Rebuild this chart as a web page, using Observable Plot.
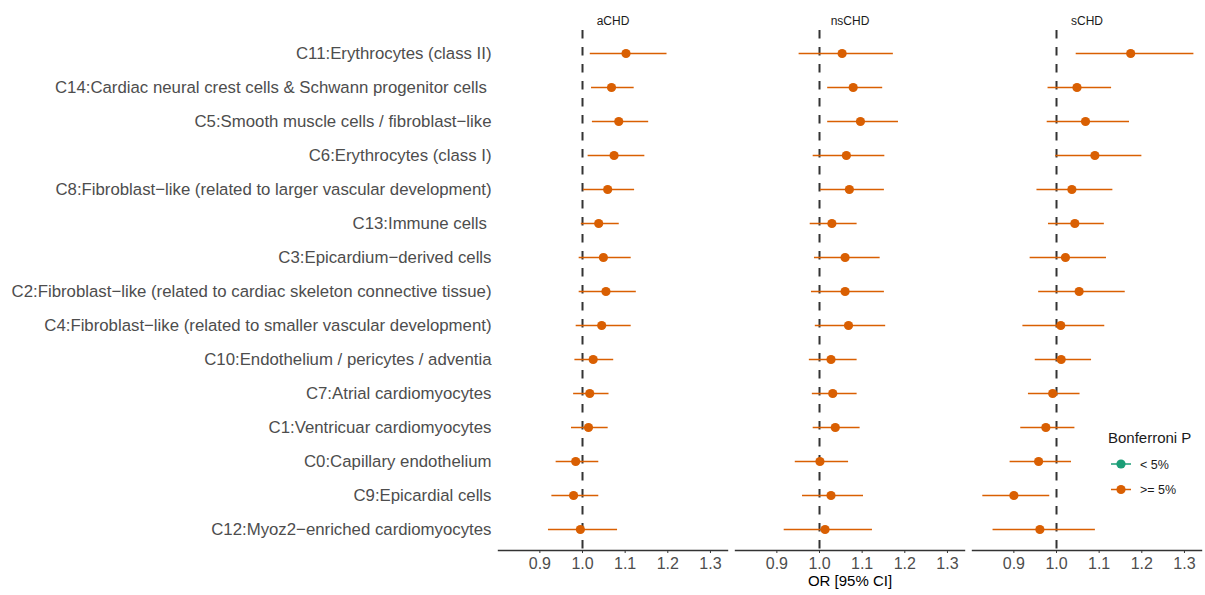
<!DOCTYPE html>
<html>
<head>
<meta charset="utf-8">
<script src="https://cdn.jsdelivr.net/npm/d3@7"></script>
<script src="https://cdn.jsdelivr.net/npm/@observablehq/plot@0.6"></script>
<style>
  html, body { margin: 0; padding: 0; background: #fff; }
  #wrap { position: relative; width: 1205px; height: 595px; font-family: "Liberation Sans", Arial, Helvetica, sans-serif; }
  #legend { position: absolute; left: 1100px; top: 420px; }
</style>
</head>
<body>
<div id="wrap"><svg id="legend" width="105" height="85"></svg></div>
<script>
// Outcomes (facets) and cell clusters (rows, top to bottom)
const outcomes = ["aCHD", "nsCHD", "sCHD"];
const clusters = [
  "C11:Erythrocytes (class II)",
  "C14:Cardiac neural crest cells & Schwann progenitor cells\u00a0",
  "C5:Smooth muscle cells / fibroblast\u2212like",
  "C6:Erythrocytes (class I)",
  "C8:Fibroblast\u2212like (related to larger vascular development)",
  "C13:Immune cells\u00a0",
  "C3:Epicardium\u2212derived cells",
  "C2:Fibroblast\u2212like (related to cardiac skeleton connective tissue)",
  "C4:Fibroblast\u2212like (related to smaller vascular development)",
  "C10:Endothelium / pericytes / adventia",
  "C7:Atrial cardiomyocytes",
  "C1:Ventricuar cardiomyocytes",
  "C0:Capillary endothelium",
  "C9:Epicardial cells",
  "C12:Myoz2\u2212enriched cardiomyocytes"
];

// Odds ratios and 95% CI bounds per outcome, in cluster order
const aCHD_or = [1.102, 1.068, 1.085, 1.074, 1.059, 1.038, 1.049, 1.055, 1.045, 1.025, 1.017, 1.014, 0.984, 0.979, 0.995];
const aCHD_lo = [1.017, 1.020, 1.022, 1.012, 1.001, 0.996, 0.991, 0.991, 0.984, 0.981, 0.978, 0.973, 0.937, 0.927, 0.919];
const aCHD_hi = [1.197, 1.120, 1.154, 1.145, 1.121, 1.085, 1.113, 1.125, 1.113, 1.072, 1.061, 1.059, 1.037, 1.037, 1.081];

const nsCHD_or = [1.053, 1.079, 1.096, 1.063, 1.070, 1.029, 1.060, 1.060, 1.068, 1.027, 1.031, 1.037, 1.001, 1.027, 1.013];
const nsCHD_lo = [0.951, 1.018, 1.018, 0.984, 1.001, 0.977, 0.987, 0.980, 0.989, 0.975, 0.982, 0.984, 0.942, 0.959, 0.916];
const nsCHD_hi = [1.172, 1.147, 1.184, 1.152, 1.151, 1.087, 1.141, 1.151, 1.154, 1.087, 1.087, 1.094, 1.067, 1.102, 1.123];

const sCHD_or = [1.174, 1.048, 1.068, 1.090, 1.036, 1.043, 1.021, 1.053, 1.010, 1.011, 0.991, 0.975, 0.958, 0.900, 0.961];
const sCHD_lo = [1.045, 0.979, 0.977, 0.997, 0.953, 0.980, 0.937, 0.957, 0.920, 0.949, 0.933, 0.915, 0.890, 0.826, 0.850];
const sCHD_hi = [1.321, 1.128, 1.170, 1.199, 1.131, 1.111, 1.116, 1.160, 1.112, 1.081, 1.054, 1.042, 1.034, 0.983, 1.090];

// Bonferroni significance levels and their colours
const sigLevels = ["< 5%", ">= 5%"];
const sigColors = ["#1B9E77", "#D95F02"];
const aCHD_sig = Array(15).fill(">= 5%");
const nsCHD_sig = Array(15).fill(">= 5%");
const sCHD_sig = Array(15).fill(">= 5%");

const xTicks = [0.9, 1.0, 1.1, 1.2, 1.3];

const series = {
  aCHD: [aCHD_or, aCHD_lo, aCHD_hi, aCHD_sig],
  nsCHD: [nsCHD_or, nsCHD_lo, nsCHD_hi, nsCHD_sig],
  sCHD: [sCHD_or, sCHD_lo, sCHD_hi, sCHD_sig]
};
const rows = outcomes.flatMap(o => clusters.map((c, i) => ({
  outcome: o, cluster: c,
  or: series[o][0][i], lo: series[o][1][i], hi: series[o][2][i], sig: series[o][3][i]
})));

const chart = Plot.plot({
  width: 1205,
  height: 595,
  marginLeft: 497,
  marginRight: 3,
  marginTop: 30,
  marginBottom: 45,
  style: { fontFamily: "'Liberation Sans', Arial, Helvetica, sans-serif", background: "white" },
  fx: { domain: outcomes, paddingInner: 0.034, paddingOuter: 0, label: null },
  x: { domain: [0.803, 1.34] },
  y: { type: "point", domain: clusters, range: [51, 530], padding: 0 },
  color: { domain: sigLevels, range: sigColors },
  marks: [
    Plot.frame({ anchor: "bottom", stroke: "#333", strokeWidth: 1.4 }),
    Plot.ruleX([1], { stroke: "#333", strokeWidth: 2, strokeDasharray: "8.5,8.5" }),
    Plot.link(rows, { x1: "lo", x2: "hi", y1: "cluster", y2: "cluster", fx: "outcome", stroke: "sig", strokeWidth: 1.5 }),
    Plot.dot(rows, { x: "or", y: "cluster", fx: "outcome", fill: "sig", r: 4.6 }),
    Plot.axisX({ ticks: xTicks, tickFormat: d3.format(".1f"), tickSize: 3, tickPadding: 4, fontSize: 16, fill: "#4D4D4D", stroke: "#333", label: null }),
    Plot.axisY({ tickSize: 0, tickPadding: 7, fontSize: 16.8, fill: "#4D4D4D", label: null }),
    Plot.axisFx({ anchor: "top", tickSize: 0, tickPadding: 6, fontSize: 12, fill: "#1A1A1A", label: null }),
    Plot.text(["OR [95% CI]"], { fx: ["nsCHD"], frameAnchor: "bottom", dy: 35, fontSize: 15, fill: "#000" })
  ]
});
document.getElementById("wrap").prepend(chart);

// Legend for the significance colour (coordinates relative to the legend box)
const legend = d3.select("#legend");
legend.append("text").attr("x", 8).attr("y", 22.5).attr("font-size", 15).attr("fill", "#1a1a1a").text("Bonferroni P");
sigLevels.forEach((lv, i) => {
  const cy = 44 + i * 25.5;
  legend.append("line").attr("x1", 11).attr("x2", 31).attr("y1", cy).attr("y2", cy)
    .attr("stroke", sigColors[i]).attr("stroke-width", 1.5);
  legend.append("circle").attr("cx", 21).attr("cy", cy).attr("r", 4.6).attr("fill", sigColors[i]);
  legend.append("text").attr("x", 40).attr("y", cy + 4.5).attr("font-size", 12.5).attr("fill", "#1a1a1a").text(lv);
});
</script>
</body>
</html>
